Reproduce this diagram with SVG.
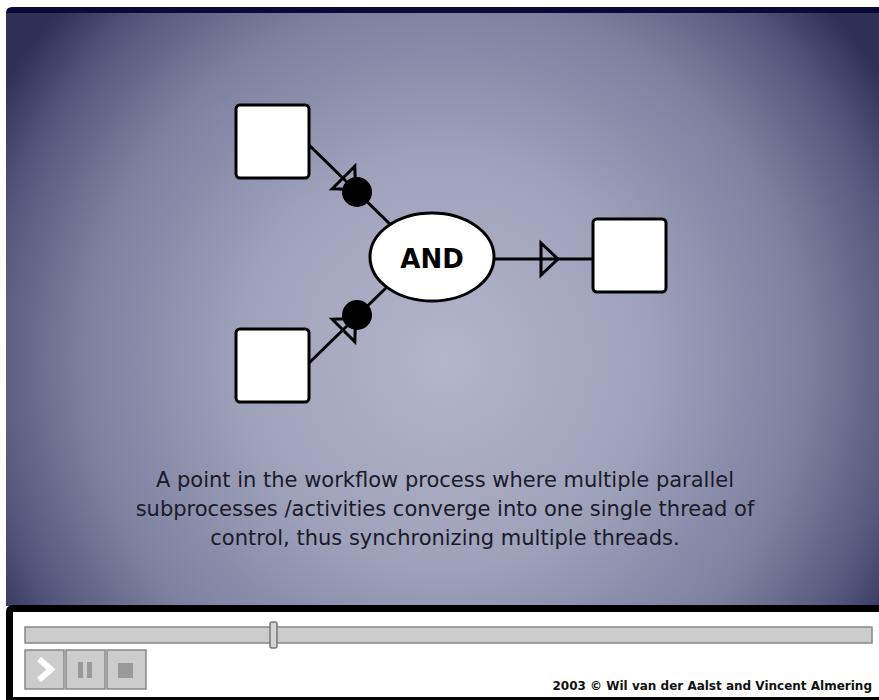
<svg xmlns="http://www.w3.org/2000/svg" xmlns:xlink="http://www.w3.org/1999/xlink" width="879" height="700" viewBox="0 0 879 700">
  <defs>
    <radialGradient id="stageBg" gradientUnits="userSpaceOnUse" cx="445" cy="360" r="520">
      <stop offset="0" stop-color="#b3b6ca"/>
      <stop offset="0.4" stop-color="#9ea1ba"/>
      <stop offset="0.7" stop-color="#7c7f9f"/>
      <stop offset="0.88" stop-color="#55587c"/>
      <stop offset="1" stop-color="#2f3256"/>
    </radialGradient>
    <!-- open flow arrowhead: base on the local y axis, tip pointing along +x -->
    <path id="flowHead" d="M0,-16 L17,0 L0,16 Z"/>
    <style>
      .task { fill: #ffffff; stroke: #000000; stroke-width: 3; }
      .flow { stroke: #000000; stroke-width: 3; fill: none; }
      .head { fill: none; stroke: #000000; stroke-width: 3; stroke-linejoin: miter; }
      .dot { fill: #000000; }
      .caption { font-family: "DejaVu Sans", Verdana, sans-serif; font-size: 21px; fill: #1a1a2a; text-anchor: middle; }
      .btn { fill: #cccccc; stroke: #888888; stroke-width: 1.5; }
      .credit { font-family: "DejaVu Sans", Verdana, sans-serif; font-size: 12px; font-weight: bold; fill: #111111; }
    </style>
  </defs>

  <!-- page -->
  <rect x="0" y="0" width="879" height="700" fill="#ffffff"/>

  <!-- stage background and top rule -->
  <rect x="6" y="12" width="873" height="594" fill="url(#stageBg)"/>
  <path d="M6,13 Q6,7 12,7 L879,7 L879,13 Z" fill="#0a0a38"/>

  <!-- connectors -->
  <g id="connectors">
    <line class="flow" x1="309" y1="145" x2="393" y2="227"/>
    <line class="flow" x1="309" y1="363" x2="388" y2="286"/>
    <line class="flow" x1="494" y1="259" x2="593" y2="259"/>
    <use xlink:href="#flowHead" class="head" transform="translate(343.5,177.5) rotate(45)"/>
    <use xlink:href="#flowHead" class="head" transform="translate(343.5,330.5) rotate(-45)"/>
    <use xlink:href="#flowHead" class="head" transform="translate(541,259)"/>
    <circle class="dot" cx="357" cy="192" r="15"/>
    <circle class="dot" cx="357" cy="315" r="15"/>
  </g>

  <!-- nodes -->
  <g id="task-in-1">
    <rect class="task" x="236" y="105" width="73" height="73" rx="4"/>
  </g>
  <g id="task-in-2">
    <rect class="task" x="236" y="329" width="73" height="73" rx="4"/>
  </g>
  <g id="task-out">
    <rect class="task" x="593" y="219" width="73" height="73" rx="4"/>
  </g>
  <g id="and-join">
    <ellipse cx="432" cy="257" rx="62" ry="44" fill="#ffffff" stroke="#000000" stroke-width="3"/>
    <text x="432" y="268" font-family="'DejaVu Sans', Verdana, sans-serif" font-size="26" font-weight="bold" text-anchor="middle" fill="#000000">AND</text>
  </g>

  <!-- description -->
  <g id="description">
    <text class="caption" x="445" y="487">A point in the workflow process where multiple parallel</text>
    <text class="caption" x="445" y="516">subprocesses /activities converge into one single thread of</text>
    <text class="caption" x="445" y="545">control, thus synchronizing multiple threads.</text>
  </g>

  <!-- player bar -->
  <g id="player">
    <path d="M6,700 L6,612 Q6,605 13,605 L879,605 L879,700 Z" fill="#000000"/>
    <rect x="13" y="612" width="866" height="85" fill="#ffffff"/>
    <rect x="25" y="627" width="847" height="16" fill="#cccccc" stroke="#888888" stroke-width="1.5"/>
    <rect x="270" y="622" width="7" height="26" rx="2" fill="#d4d4d4" stroke="#777777" stroke-width="1.5"/>
    <rect class="btn" x="25" y="650" width="39" height="39"/>
    <path d="M39,659 L51,669.5 L39,680" fill="none" stroke="#ffffff" stroke-width="6" stroke-linejoin="miter"/>
    <rect class="btn" x="66" y="650" width="39" height="39"/>
    <rect x="78" y="662" width="5" height="16" fill="#999999"/>
    <rect x="87" y="662" width="5" height="16" fill="#999999"/>
    <rect class="btn" x="107" y="650" width="39" height="39"/>
    <rect x="118" y="663" width="15" height="15" fill="#999999"/>
    <text class="credit" x="872" y="690" text-anchor="end">2003 © Wil van der Aalst and Vincent Almering</text>
  </g>
</svg>
